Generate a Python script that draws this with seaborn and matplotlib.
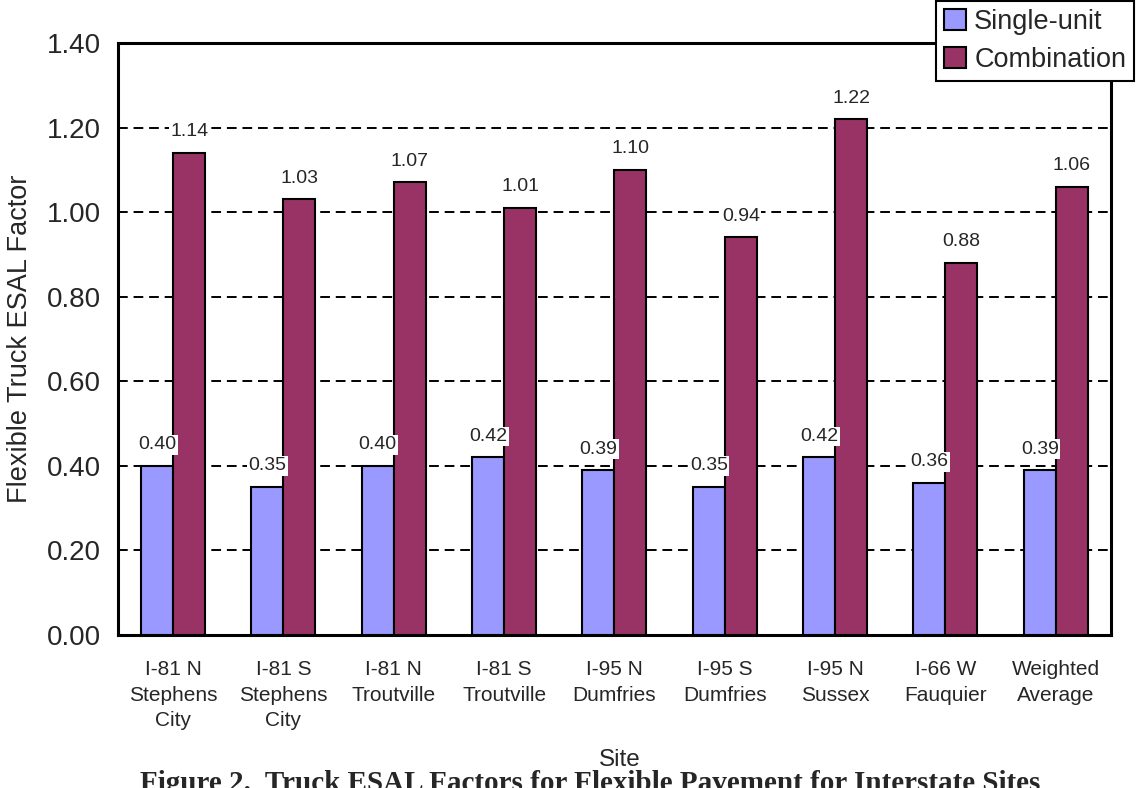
import pandas as pd
import numpy as np
import matplotlib
matplotlib.use('Agg')
import matplotlib.pyplot as plt
import seaborn as sns

# Data
sites = ['I-81 N\nStephens\nCity', 'I-81 S\nStephens\nCity', 'I-81 N\nTroutville',
         'I-81 S\nTroutville', 'I-95 N\nDumfries', 'I-95 S\nDumfries',
         'I-95 N\nSussex', 'I-66 W\nFauquier', 'Weighted\nAverage']
single_unit = [0.40, 0.35, 0.40, 0.42, 0.39, 0.35, 0.42, 0.36, 0.39]
combination = [1.14, 1.03, 1.07, 1.01, 1.10, 0.94, 1.22, 0.88, 1.06]
series = ['Single-unit', 'Combination']
colors = ['#9999FF', '#993366']

df = pd.DataFrame({
    'Site': sites * 2,
    'value': single_unit + combination,
    'type': [series[0]] * len(sites) + [series[1]] * len(sites),
})

sns.set_style('white')
plt.rcParams['font.family'] = ['Liberation Sans', 'DejaVu Sans']

fig = plt.figure(figsize=(11.4, 7.88), dpi=100)
ax = fig.add_axes([0.1035, 0.1942, 0.871, 0.7513])

sns.barplot(data=df, x='Site', y='value', hue='type', order=sites, hue_order=series,
            palette=colors, width=0.58, edgecolor='black', linewidth=1.5,
            saturation=1, ax=ax, zorder=3)

# Grid
ax.set_ylim(0, 1.4)
ax.set_xlim(-0.5, len(sites) - 0.5)
ax.set_yticks(np.arange(0, 1.41, 0.2))
ax.set_yticklabels([f'{v:.2f}' for v in np.arange(0, 1.41, 0.2)], fontsize=20)
for y in np.arange(0.2, 1.3, 0.2):
    ax.axhline(y, color='black', lw=1.4, ls=(0, (5, 3)), zorder=1)

# Value labels
for cont in ax.containers:
    ax.bar_label(cont, fmt='%.2f', padding=9, fontsize=14, zorder=4,
                 bbox=dict(fc='white', ec='none', pad=1))

# X ticks at the group boundaries
ax.set_xticks(range(len(sites)))
ax.set_xticklabels(sites, fontsize=15, linespacing=1.45)
ax.set_xticks(np.arange(-0.5, len(sites), 1), minor=True)
ax.tick_params(axis='x', which='major', length=0, pad=18)
ax.tick_params(axis='x', which='minor', length=5, width=1, color='#555555', direction='out')
ax.tick_params(axis='y', length=5, width=1, color='#555555', direction='out', pad=7)

for s in ax.spines.values():
    s.set_color('black')
    s.set_linewidth(2.2)

ax.set_xlabel('Site', fontsize=17.5)
ax.xaxis.set_label_coords(0.505, -0.192)
ax.set_ylabel('Flexible Truck ESAL Factor', fontsize=19.5)
ax.yaxis.set_label_coords(-0.086, 0.5)

# Legend at top right of the figure
handles, labels = ax.get_legend_handles_labels()
ax.get_legend().remove()
leg = fig.legend(handles, labels, loc='upper right', bbox_to_anchor=(0.995, 0.999),
                 fontsize=19.5, frameon=True, fancybox=False, edgecolor='black',
                 framealpha=1, handlelength=0.8, handleheight=0.8, handletextpad=0.3,
                 borderpad=0.3, labelspacing=0.45, borderaxespad=0)
leg.get_frame().set_linewidth(1.5)

# Caption (partially cut at the bottom edge, as in the source)
fig.text(0.518, -0.004, 'Figure 2.  Truck ESAL Factors for Flexible Pavement for Interstate Sites',
         ha='center', va='baseline', fontsize=21, fontweight='bold',
         family=['Liberation Serif', 'DejaVu Serif'])

fig.savefig('out.png', dpi=100)
